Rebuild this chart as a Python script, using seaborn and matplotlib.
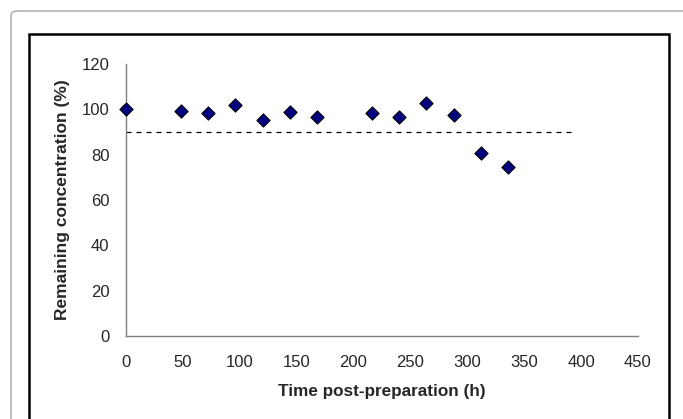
import matplotlib
matplotlib.use("Agg")
import matplotlib.pyplot as plt
import matplotlib.patches as mpatches
import seaborn as sns
import pandas as pd

# data
time_h = [0, 48, 72, 96, 120, 144, 168, 216, 240, 264, 288, 312, 336]
remaining = [100, 99.3, 98.2, 101.8, 95.5, 98.8, 96.8, 98.2, 96.8, 102.6, 97.6, 80.7, 74.4]
limit_x = [0, 395]
limit_y = [90, 90]
xticks = [0, 50, 100, 150, 200, 250, 300, 350, 400, 450]
yticks = [0, 20, 40, 60, 80, 100, 120]

df = pd.DataFrame({"time": time_h, "remaining": remaining})

sns.set_style("white")
plt.rcParams['font.family'] = ['Liberation Sans', 'DejaVu Sans']

fig = plt.figure(figsize=(6.83, 4.19), dpi=100)
ax = fig.add_axes([126 / 683, 83 / 419, 512 / 683, 272 / 419])

# outer gray frame + inner black chart frame
fig.patches.append(mpatches.FancyBboxPatch(
    (11 / 683, -0.1), 1.2, 0.9737 + 0.1, boxstyle="round,pad=0,rounding_size=0.01",
    transform=fig.transFigure, fill=False, edgecolor="#b4b4b4", linewidth=1.2, zorder=0))
fig.patches.append(mpatches.Rectangle(
    (28.5 / 683, -0.1), (669 - 28.5) / 683, 0.9196 + 0.1,
    transform=fig.transFigure, fill=False, edgecolor="black", linewidth=1.8, zorder=0))

ax.plot(limit_x, limit_y, color="black", linestyle=(0, (4, 4)), linewidth=0.9)
sns.scatterplot(data=df, x="time", y="remaining", marker="D", s=45,
                color="#000080", edgecolor="black", linewidth=0.8, ax=ax, zorder=3, clip_on=False)

ax.set_xlim(0, 450)
ax.set_ylim(0, 120)
ax.set_xticks(xticks)
ax.set_yticks(yticks)
ax.tick_params(axis="both", direction="out", length=5, width=1, color="#808080",
               labelsize=12)
ax.tick_params(axis="x", pad=9)
ax.tick_params(axis="y", pad=7)
for side in ["top", "right"]:
    ax.spines[side].set_visible(False)
for side in ["left", "bottom"]:
    ax.spines[side].set_color("#808080")
    ax.spines[side].set_linewidth(1)

ax.set_xlabel("Time post-preparation (h)", fontsize=12.3, fontweight="bold", labelpad=10)
ax.set_ylabel("Remaining concentration (%)", fontsize=12.5, fontweight="bold", labelpad=8)

fig.savefig("out.png", dpi=100)
